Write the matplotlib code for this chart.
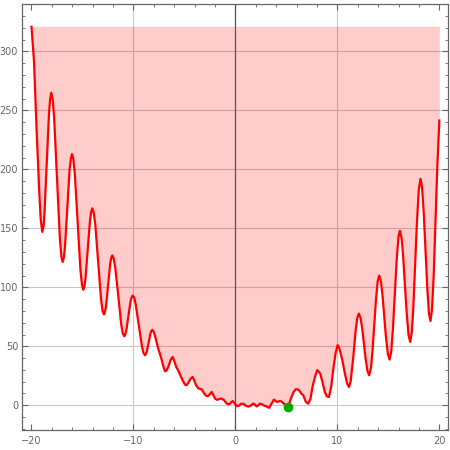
# coding: utf-8
"""Oscillating function with filled region and marked minimum
"""
import numpy as np
import matplotlib.pyplot as plt
from matplotlib.ticker import MultipleLocator

###############################################################################
# data
x_left = [-20.0, -19.75, -19.5, -19.25, -19.1, -18.94, -18.8, -18.72, -18.5,
          -18.28, -18.17, -18.06, -17.93, -17.78, -17.5, -17.22, -17.07,
          -16.94, -16.82, -16.71, -16.49, -16.26, -16.14, -16.03, -15.9,
          -15.75, -15.48, -15.2, -15.05, -14.92, -14.81, -14.7, -14.48,
          -14.26, -14.15, -14.04, -13.9, -13.75, -13.47, -13.18, -13.03,
          -12.89, -12.79, -12.69, -12.49, -12.28, -12.18, -12.08, -11.94,
          -11.79, -11.49, -11.2, -11.05, -10.9, -10.8, -10.7, -10.49,
          -10.29, -10.18, -10.08, -9.93, -9.78, -9.48, -9.17, -9.02, -8.87,
          -8.78, -8.69, -8.51, -8.33, -8.24, -8.15, -8.0, -7.89, -7.72,
          -7.57, -7.4, -7.24, -7.05, -6.9, -6.75, -6.59, -6.35, -6.16,
          -5.98, -5.8, -5.6, -5.4, -5.2, -4.95, -4.8, -4.62, -4.4, -4.2,
          -4.03, -3.87, -3.64, -3.3, -3.1, -2.9, -2.7, -2.5, -2.33, -2.18,
          -2.0, -1.8, -1.6, -1.45, -1.3, -1.1, -0.9, -0.7, -0.54, -0.4,
          -0.27, -0.12]
y_left = [321, 291, 234, 183, 158, 147, 153, 164, 206,
          248, 260, 265, 260, 244, 193, 142, 126,
          121.5, 125.5, 135, 167, 200, 209, 213, 209,
          196, 155.5, 115, 102, 98, 100.5, 108, 132.5,
          157, 164, 167, 163.5, 154, 122, 90, 80,
          77, 79, 84, 102, 120, 125, 127, 124.5,
          117, 93, 68.5, 61, 58.5, 60, 63.5, 76,
          88, 91.5, 93, 91.5, 85.6, 68, 50, 44.5, 42.4,
          43.5, 45.6, 53, 61, 63, 64, 62, 59, 53,
          48, 43.5, 38.7, 32.5, 28.8, 29.5, 32.5, 38.5, 41,
          37, 32.5, 29.3, 25.5, 21.5, 17.5, 17, 19, 22.5, 24,
          21, 17.2, 14.3, 13.4, 10.5, 8.2, 7.6, 9.5, 11.3, 9,
          5.6, 4.6, 5.2, 5.8, 5.3, 4.2, 1.8, 0.8, 1.3, 2.6,
          3.6, 2.0]

x_right = [0.15, 0.35, 0.6, 0.8, 1.0, 1.26, 1.5, 1.75, 1.92, 2.07, 2.25,
           2.4, 2.6, 2.79, 3.05, 3.31, 3.55, 3.77, 3.95, 4.1, 4.28, 4.43,
           4.6, 4.75, 4.95, 5.11, 5.3, 5.5, 5.72, 5.93, 6.1, 6.26, 6.45,
           6.65, 6.9, 7.14, 7.35, 7.57, 7.8, 8.02, 8.18, 8.35, 8.55, 8.77,
           8.97, 9.17, 9.38, 9.59, 9.82, 10.02, 10.2, 10.41, 10.58, 10.74,
           10.95, 11.13, 11.3, 11.55, 11.8, 11.95, 12.1, 12.27, 12.43, 12.6,
           12.76, 12.95, 13.12, 13.3, 13.45, 13.61, 13.78, 13.95, 14.1,
           14.27, 14.43, 14.59, 14.75, 14.95, 15.12, 15.28, 15.45, 15.64,
           15.82, 16.0, 16.13, 16.3, 16.45, 16.62, 16.8, 16.98, 17.14, 17.3,
           17.45, 17.63, 17.8, 17.98, 18.15, 18.3, 18.47, 18.64, 18.82,
           18.98, 19.13, 19.28, 19.45, 19.63, 19.8, 20.0]
y_right = [-0.8, -0.3, 1.4, 1.2, -0.3, -1.2, -0.3, 1.4, 0.5, -1.0, 0,
           1.4, 0.8, -0.2, -1.0, -2.2, 1.5, 4.8, 3.5, 2.8, 3.4, 3.6,
           2.5, 1.4, -0.5, -1.8, 2, 7, 11.5, 13.6, 13.4, 12.5, 10,
           8.5, 3, 1.4, 5, 16, 24, 29.7, 28.5, 26, 19, 11.3,
           7.5, 7, 15, 30, 44, 51, 48, 41, 34, 26.8,
           18.5, 15.5, 20, 40, 64, 74, 77.7, 74, 65.4, 52.3,
           40, 29, 25.4, 32, 46.6, 67.7, 89, 105, 110,
           105, 93, 76.5, 59, 43.5, 38.7, 45.3, 65, 95,
           124, 143.6, 148, 141.6, 126.7, 102, 78, 59.4, 53.7, 62,
           83, 120, 155, 182.6, 192, 185, 163, 131.7, 99,
           78, 71.5, 81, 111, 159, 202, 241.5]

x_curve = np.array(x_left + x_right)
y_curve = np.array(y_left + y_right)

fill_top = 321.4          # upper limit of the filled region
x_min, y_min = 5.11, -1.8  # marked minimum

###############################################################################
# plotting
gray = '#666666'
fig = plt.figure(figsize=(4.5, 4.5), dpi=100)
ax = fig.add_axes([0.0496, 0.0444, 0.946, 0.946])

ax.fill_between(x_curve, y_curve, fill_top, color='red', alpha=0.2,
                lw=0, zorder=1)
ax.plot(x_curve, y_curve, '-', color='red', lw=1.6, zorder=3)
ax.axvline(0, color='#555555', lw=0.9, zorder=2)
ax.plot([x_min], [y_min], 'o', color='#00aa00', ms=6, zorder=4)

ax.set_xlim(-20.9, 20.85)
ax.set_ylim(-21, 340)

ax.set_xticks([-20, -10, 0, 10, 20])
ax.set_yticks([0, 50, 100, 150, 200, 250, 300])
ax.xaxis.set_minor_locator(MultipleLocator(2))
ax.yaxis.set_minor_locator(MultipleLocator(10))

for xv in [-10, 10]:
    ax.axvline(xv, color='#c8c8c8', lw=0.8, zorder=0)
for yv in [0, 50, 100, 150, 200, 250, 300]:
    ax.axhline(yv, color='#c8c8c8', lw=0.8, zorder=0)

ax.tick_params(which='both', direction='in', top=True, right=True,
               colors=gray, labelcolor=gray, labelsize=7)
ax.tick_params(which='major', length=4, width=0.8)
ax.tick_params(which='minor', length=2.2, width=0.6)
ax.tick_params(axis='y', pad=3)
ax.tick_params(axis='x', pad=4)
for sp in ax.spines.values():
    sp.set_color(gray)
    sp.set_linewidth(0.9)

plt.savefig('out.png', dpi=100)
